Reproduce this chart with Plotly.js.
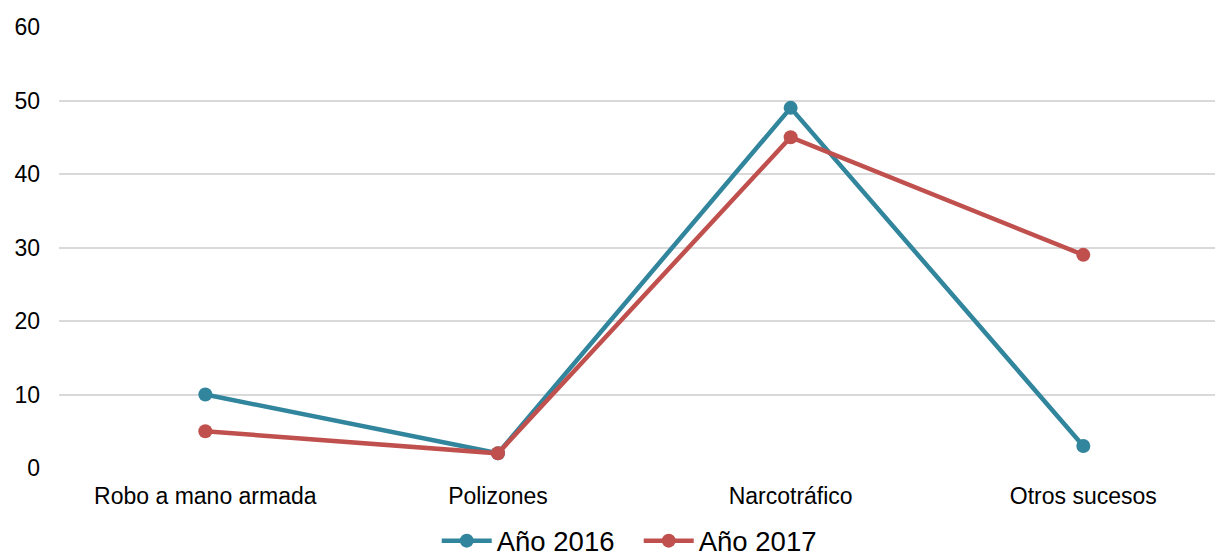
<!DOCTYPE html>
<html>
<head>
<meta charset="utf-8">
<script src="https://cdn.plot.ly/plotly-3.0.1.min.js"></script>
<style>html,body{margin:0;padding:0;background:#fff;overflow:hidden;width:1215px;height:556px}#chart{width:1215px;height:590px}</style>
</head>
<body>
<div id="chart"></div>
<script>
var categories = ["Robo a mano armada", "Polizones", "Narcotráfico", "Otros sucesos"];
var seriesNames = ["Año 2016", "Año 2017"];
var values2016 = [10, 2, 49, 3];
var values2017 = [5, 2, 45, 29];
var yTicks = [0, 10, 20, 30, 40, 50, 60];

var colors = ["#31859C", "#C0504D"];
var traces = [values2016, values2017].map(function (vals, i) {
  return {
    x: categories,
    y: vals,
    name: seriesNames[i],
    type: "scatter",
    mode: "lines+markers",
    line: {color: colors[i], width: 4.5},
    marker: {color: colors[i], size: 14}
  };
});

var layout = {
  width: 1215,
  height: 590,
  margin: {l: 59, r: 0, t: 27, b: 122},
  paper_bgcolor: "#fff",
  plot_bgcolor: "#fff",
  font: {family: "Liberation Sans, Arial, sans-serif", color: "#000", size: 23},
  showlegend: true,
  legend: {
    orientation: "h",
    x: 0.5015, xanchor: "center",
    y: -0.165, yanchor: "middle",
    font: {size: 27.5},
    itemwidth: 50,
    entrywidth: 137,
    entrywidthmode: "pixels"
  },
  xaxis: {
    type: "category",
    range: [-0.5, 3.45],
    showgrid: false,
    zeroline: false,
    showline: false,
    ticks: "",
    ticklabelstandoff: 12,
    tickfont: {size: 23}
  },
  yaxis: {
    range: [0, 60],
    tickvals: yTicks,
    ticktext: yTicks.map(String),
    showgrid: true,
    gridcolor: "#D9D9D9",
    gridwidth: 2,
    zeroline: false,
    showline: false,
    ticks: "",
    ticklabelstandoff: 18,
    tickfont: {size: 23}
  }
};

Plotly.newPlot("chart", traces, layout, {displayModeBar: false, staticPlot: true});
</script>
</body>
</html>
